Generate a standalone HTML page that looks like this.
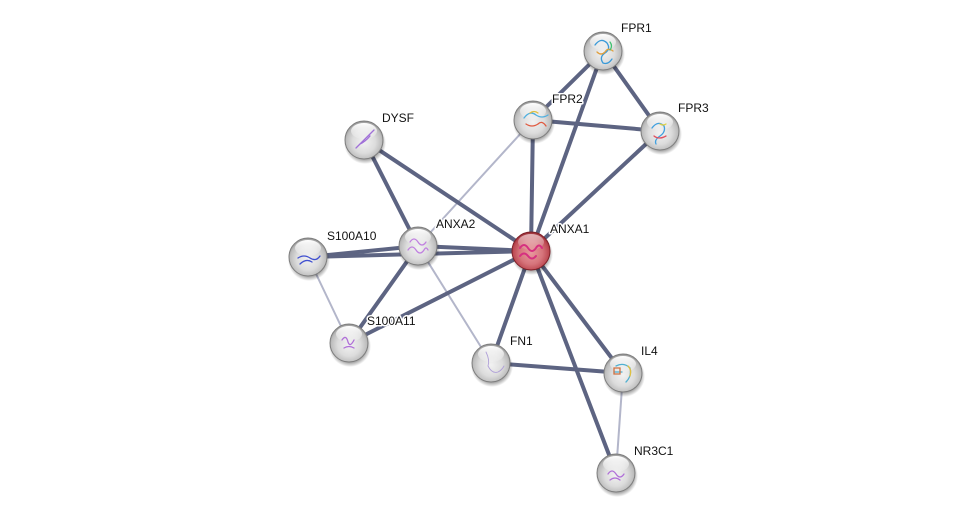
<!DOCTYPE html>
<html><head><meta charset="utf-8"><style>
html,body{margin:0;padding:0;background:#fff;width:976px;height:518px;overflow:hidden}
svg{display:block}
text{font-family:"Liberation Sans",sans-serif;font-size:12px;fill:#111;stroke:#fff;stroke-width:3px;stroke-linejoin:round;paint-order:stroke}
</style></head><body>
<svg width="976" height="518" viewBox="0 0 976 518" xmlns="http://www.w3.org/2000/svg">
<defs>
<radialGradient id="g" cx="0.5" cy="0.55" r="0.55">
<stop offset="0" stop-color="#f2f2f2"/><stop offset="0.55" stop-color="#dcdcdc"/><stop offset="0.85" stop-color="#bdbdbd"/><stop offset="1" stop-color="#8e8e8e"/>
</radialGradient>
<radialGradient id="r" cx="0.5" cy="0.55" r="0.55">
<stop offset="0" stop-color="#e8989e"/><stop offset="0.55" stop-color="#d6747b"/><stop offset="0.85" stop-color="#bd4a53"/><stop offset="1" stop-color="#8f2a32"/>
</radialGradient>
<linearGradient id="hl" x1="0" y1="0" x2="0" y2="1">
<stop offset="0" stop-color="#fff" stop-opacity="1"/><stop offset="1" stop-color="#fff" stop-opacity="0.1"/>
</linearGradient>
<radialGradient id="sh" cx="0.5" cy="0.5" r="0.5">
<stop offset="0.75" stop-color="#000" stop-opacity="0.4"/><stop offset="1" stop-color="#000" stop-opacity="0"/>
</radialGradient>
<g id="node">
<circle cx="1" cy="3" r="21" fill="url(#sh)"/>
<circle cx="0" cy="0" r="19" fill="url(#g)" stroke="#7e7e7e" stroke-width="1"/>
<ellipse cx="0" cy="-9" rx="13" ry="8" fill="url(#hl)"/>
</g>
<g id="rnode">
<circle cx="1" cy="3" r="21" fill="url(#sh)"/>
<circle cx="0" cy="0" r="19" fill="url(#r)" stroke="#7e2028" stroke-width="1"/>
<ellipse cx="0" cy="-9" rx="13" ry="8" fill="url(#hl)" opacity="0.6"/>
</g>
</defs>
<g stroke-linecap="round">
<g stroke="#b3b6ca" stroke-width="2">
<line x1="533" y1="120" x2="418" y2="246"/>
<line x1="308" y1="257" x2="349" y2="343"/>
<line x1="418" y1="246" x2="491" y2="363"/>
<line x1="623" y1="373" x2="616" y2="473"/>
</g>
<g stroke="#5d6482" stroke-width="4">
<line x1="603" y1="51" x2="533" y2="120"/>
<line x1="603" y1="51" x2="660" y2="131"/>
<line x1="533" y1="120" x2="660" y2="131"/>
<line x1="603" y1="51" x2="531" y2="251"/>
<line x1="533" y1="120" x2="531" y2="251"/>
<line x1="660" y1="131" x2="531" y2="251"/>
<line x1="364" y1="140" x2="418" y2="246"/>
<line x1="364" y1="140" x2="531" y2="251"/>
<line x1="418" y1="246" x2="531" y2="251"/>
<line x1="308" y1="257" x2="418" y2="246"/>
<line x1="308" y1="257" x2="531" y2="251"/>
<line x1="349" y1="343" x2="418" y2="246"/>
<line x1="349" y1="343" x2="531" y2="251"/>
<line x1="491" y1="363" x2="531" y2="251"/>
<line x1="491" y1="363" x2="623" y2="373"/>
<line x1="531" y1="251" x2="623" y2="373"/>
<line x1="531" y1="251" x2="616" y2="473"/>
</g>
</g>
<g>
<use href="#node" x="603" y="51"/>
<use href="#node" x="533" y="120"/>
<use href="#node" x="660" y="131"/>
<use href="#node" x="364" y="140"/>
<use href="#node" x="418" y="246"/>
<use href="#rnode" x="531" y="251"/>
<use href="#node" x="308" y="257"/>
<use href="#node" x="349" y="343"/>
<use href="#node" x="491" y="363"/>
<use href="#node" x="623" y="373"/>
<use href="#node" x="616" y="473"/>
</g>
<g fill="none" stroke-width="1.3" stroke-linecap="round">
<path d="M595 45 q6 -8 12 -2 q4 6 -2 10 q-6 4 -2 10 q5 2 9 -4" stroke="#3a9ad8"/>
<path d="M597 52 q4 4 8 0 q3 -5 8 -1" stroke="#e0a040"/>
<path d="M610 42 q3 4 0 8" stroke="#40c070"/>
<path d="M524 118 q6 -8 12 -3 q6 4 12 0" stroke="#50b0e0"/>
<path d="M526 124 q6 4 12 0 q4 -4 8 2" stroke="#e05a40"/>
<path d="M530 113 q4 -3 8 0" stroke="#e0c040"/>
<path d="M652 128 q6 -8 12 -2 q2 6 -4 10 q-6 4 -4 8" stroke="#40a0e0"/>
<path d="M654 136 q5 4 12 0" stroke="#e05060"/>
<path d="M660 124 q3 2 6 0" stroke="#e0d040"/>
<path d="M356 148 q6 -6 10 -10 q4 -4 8 -8 M360 144 q5 -2 10 -8" stroke="#a070d8"/>
<path d="M410 242 q4 -6 8 0 q4 6 8 0 M408 250 q4 -6 8 0 q4 6 8 0 q2 -4 4 0" stroke="#c080e0"/>
<path d="M520 248 q4 -6 8 0 q4 6 8 0 q3 -5 6 0 M520 256 q4 -5 8 0 q4 5 8 0" stroke="#d63080" stroke-width="2"/>
<path d="M298 258 q6 -4 12 0 q6 4 10 -2 M300 264 q6 -6 12 -2" stroke="#4050d0"/>
<path d="M342 340 q4 -6 6 2 q2 6 6 -2 M344 348 q5 -3 10 0" stroke="#b070d8"/>
<path d="M486 352 q4 8 2 14 q4 8 10 6 q4 -2 6 -6" stroke="#b0a0d8" stroke-width="0.9"/>
<path d="M614 372 l8 0 M616 366 q8 -4 14 2 q2 8 -4 14" stroke="#50b0d0"/>
<path d="M628 366 q4 4 2 10" stroke="#e0c040"/>
<path d="M614 368 l6 0 l0 6 l-6 0z" stroke="#d07040"/>
<path d="M608 474 q4 -6 8 0 q4 6 8 0 M610 480 q5 -4 10 0" stroke="#b070d8"/>
</g>
<g>
<text x="621" y="32">FPR1</text>
<text x="552" y="103">FPR2</text>
<text x="678" y="112">FPR3</text>
<text x="382" y="122">DYSF</text>
<text x="436" y="228">ANXA2</text>
<text x="550" y="233">ANXA1</text>
<text x="327" y="240">S100A10</text>
<text x="367" y="325">S100A11</text>
<text x="510" y="345">FN1</text>
<text x="641" y="355">IL4</text>
<text x="634" y="455">NR3C1</text>
</g>
</svg>
</body></html>
